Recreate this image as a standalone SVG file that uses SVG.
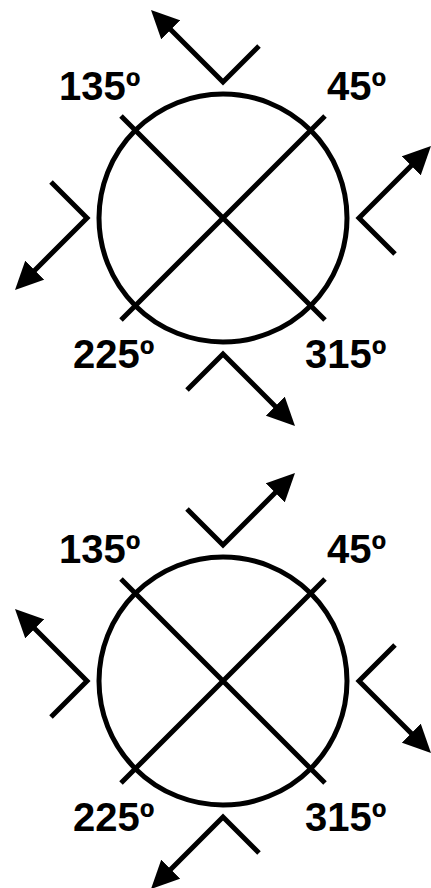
<svg xmlns="http://www.w3.org/2000/svg" width="431" height="888" viewBox="0 0 431 888">
<style>
.ln{fill:none;stroke:#000;stroke-width:5;stroke-linecap:butt;stroke-linejoin:miter;stroke-miterlimit:10}
.lbl{font-family:"Liberation Sans",Arial,sans-serif;font-weight:bold;font-size:40px;fill:#000}
</style>
<defs>
<marker id="ah" markerUnits="userSpaceOnUse" markerWidth="30" markerHeight="28" viewBox="0 -14 30 28" refX="1" refY="0" orient="auto">
<path d="M0,-13.5 L28,0 L0,13.5 Z" fill="#000"/>
</marker>
</defs>
<rect width="431" height="888" fill="#fff"/>

<g id="diagram-top">
  <g id="dial-top" transform="translate(223,218)">
    <circle class="ln" r="124"/>
    <path class="ln" d="M-102,-102 L102,102 M102,-102 L-102,102"/>
  </g>
  <g id="labels-top" class="lbl">
    <text id="t135a" x="59" y="100">135º</text>
    <text id="t45a" x="327" y="100">45º</text>
    <text id="t225a" x="73" y="368">225º</text>
    <text id="t315a" x="305" y="368">315º</text>
  </g>
  <g id="arrows-top" transform="translate(223,218)">
    <path class="ln" d="M36,-172 L0,-136 L-52.9,-188.9" marker-end="url(#ah)"/>
    <path class="ln" d="M36,-172 L0,-136 L-52.9,-188.9" marker-end="url(#ah)" transform="rotate(90)"/>
    <path class="ln" d="M36,-172 L0,-136 L-52.9,-188.9" marker-end="url(#ah)" transform="rotate(180)"/>
    <path class="ln" d="M36,-172 L0,-136 L-52.9,-188.9" marker-end="url(#ah)" transform="rotate(270)"/>
  </g>
</g>

<g id="diagram-bottom">
  <g id="dial-bottom" transform="translate(223,681)">
    <circle class="ln" r="124"/>
    <path class="ln" d="M-102,-102 L102,102 M102,-102 L-102,102"/>
  </g>
  <g id="labels-bottom" class="lbl">
    <text id="t135b" x="59" y="563">135º</text>
    <text id="t45b" x="327" y="563">45º</text>
    <text id="t225b" x="73" y="831">225º</text>
    <text id="t315b" x="305" y="831">315º</text>
  </g>
  <g id="arrows-bottom" transform="translate(223,681) scale(-1,1)">
    <path class="ln" d="M36,-172 L0,-136 L-52.9,-188.9" marker-end="url(#ah)"/>
    <path class="ln" d="M36,-172 L0,-136 L-52.9,-188.9" marker-end="url(#ah)" transform="rotate(90)"/>
    <path class="ln" d="M36,-172 L0,-136 L-52.9,-188.9" marker-end="url(#ah)" transform="rotate(180)"/>
    <path class="ln" d="M36,-172 L0,-136 L-52.9,-188.9" marker-end="url(#ah)" transform="rotate(270)"/>
  </g>
</g>
</svg>
